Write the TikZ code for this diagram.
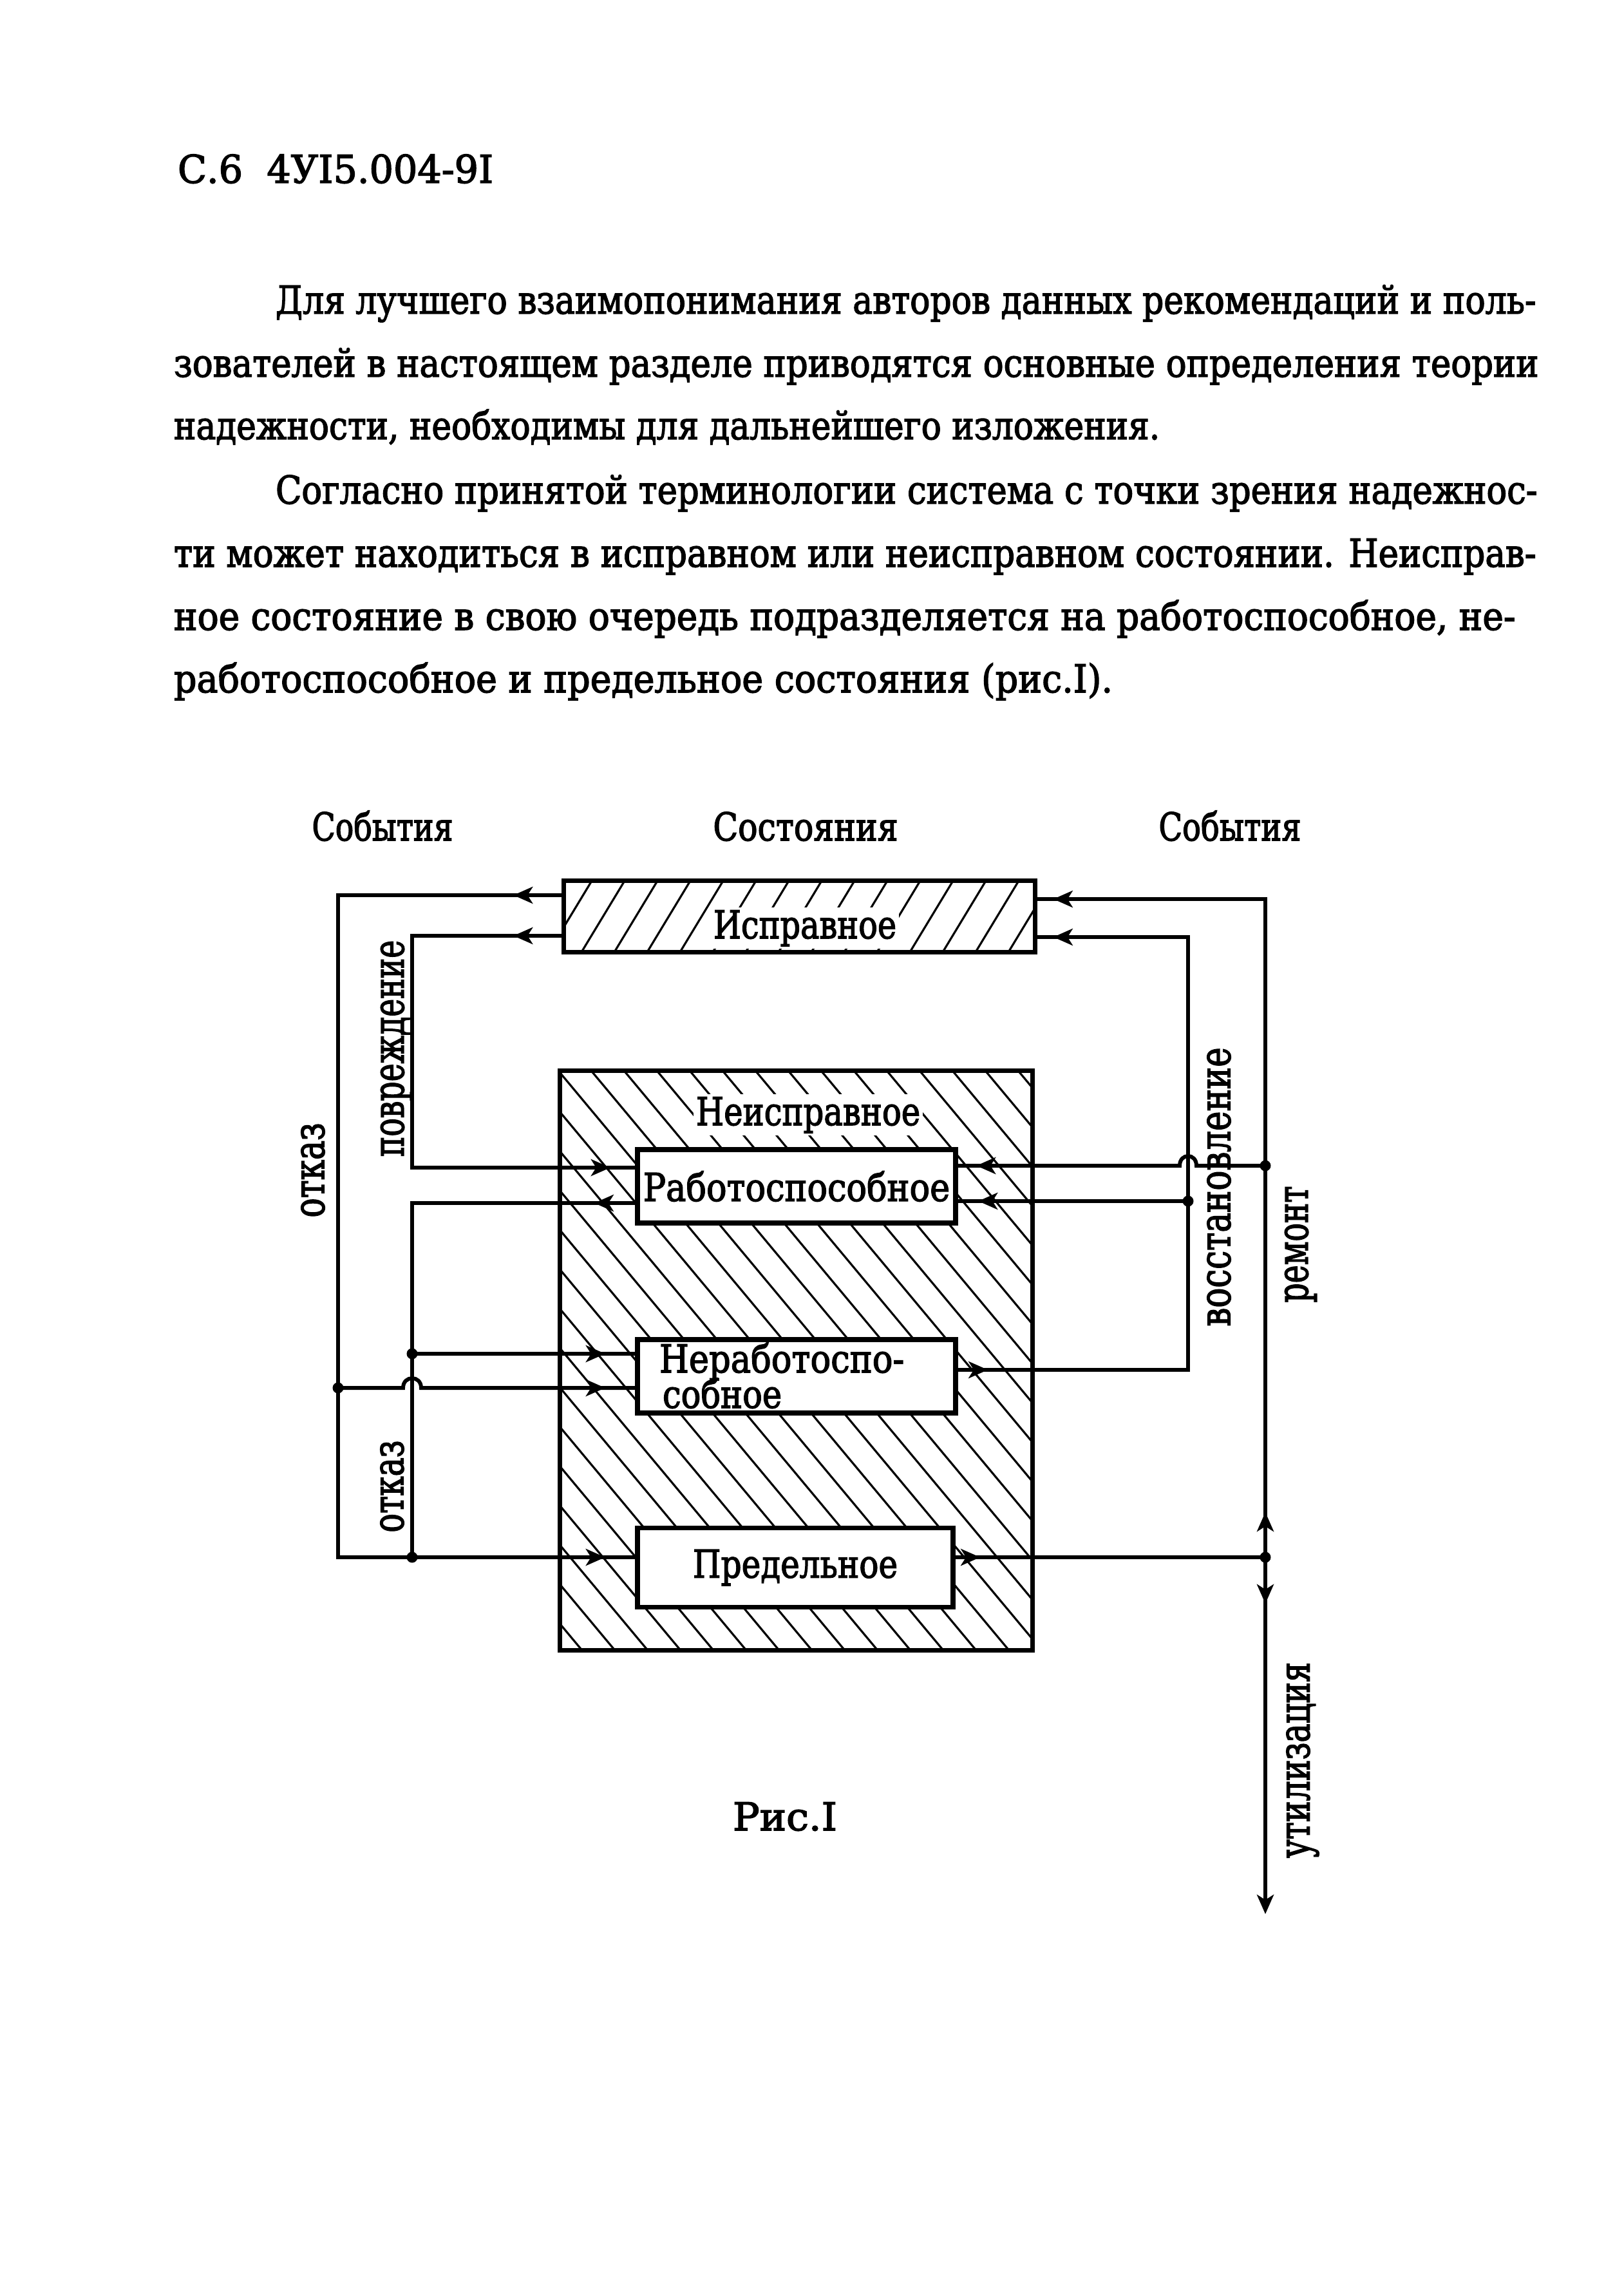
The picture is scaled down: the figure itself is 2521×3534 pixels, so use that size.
\documentclass[tikz,border=0pt]{standalone}
\usepackage{fontspec}
\usepackage{graphicx}
\usetikzlibrary{arrows.meta,decorations.markings}
\newfontfamily\tw{DejaVu Serif}[FakeBold=2.5]
\newcommand{\fw}[2]{\resizebox{#1}{\height}{#2}}
\begin{document}
\begin{tikzpicture}[x=0.01cm,y=-0.01cm,
  txt/.style={font=\tw\fontsize{17}{20}\selectfont, inner sep=0pt, outer sep=0pt},
  lbl/.style={txt, fill=white, inner sep=0.04cm},
  vlbl/.style={txt, font=\tw\fontsize{19}{22}\selectfont, rotate=90},
  statebox/.style={txt, draw, line width=2.2pt, fill=white},
  areabox/.style={draw, line width=2pt, inner sep=0pt},
  conn/.style={line width=1.7pt},
  hatch/.style={line width=0.9pt},
  arr/.style={postaction={decorate, decoration={markings, mark=at position #1 with {\arrow{Stealth[length=0.3cm,width=0.26cm,inset=0.08cm]}}}}},
  jdot/.style={fill},
]
\useasboundingbox (0,0) rectangle (2521,3534);
\fill[white] (0,0) rectangle (2521,3534);

% header and text
\node[txt, anchor=base west] (hdr) at (276,284) {\fw{4.9cm}{С.6\ \ 4УI5.004-9I}};
\node[txt, anchor=base west] (t1) at (428,487) {\fw{19.56cm}{Для лучшего взаимопонимания авторов данных рекомендаций и поль-}};
\node[txt, anchor=base west] (t2) at (270,585) {\fw{21.18cm}{зователей в настоящем разделе приводятся основные определения теории}};
\node[txt, anchor=base west] (t3) at (270,682) {\fw{15.3cm}{надежности, необходимы для дальнейшего изложения.}};
\node[txt, anchor=base west] (t4) at (428,782) {\fw{19.58cm}{Согласно принятой терминологии система с точки зрения надежнос-}};
\node[txt, anchor=base west] (t5) at (270,880) {\fw{21.14cm}{ти может находиться в исправном или неисправном состоянии. Неисправ-}};
\node[txt, anchor=base west] (t6) at (270,978) {\fw{20.82cm}{ное состояние в свою очередь подразделяется на работоспособное, не-}};
\node[txt, anchor=base west] (t7) at (270,1075) {\fw{14.57cm}{работоспособное и предельное состояния (рис.I).}};

% column headings
\node[txt, anchor=base] (ev1) at (594,1305) {\fw{2.19cm}{События}};
\node[txt, anchor=base] (st) at (1251,1305) {\fw{2.87cm}{Состояния}};
\node[txt, anchor=base] (ev2) at (1910,1305) {\fw{2.21cm}{События}};

% state areas
\node[areabox, minimum width=7.31cm, minimum height=1.10cm] (isp) at (1241.5,1423) {};
\begin{scope}
  \clip (isp.south west) rectangle (isp.north east);
  \foreach \x in {800,851,...,1620} \draw[hatch] (\x,1480) -- (\x+69,1366);
\end{scope}
\node[lbl, anchor=base] (isplbl) at (1250,1457) {\fw{2.84cm}{Исправное}};

\node[areabox, minimum width=7.33cm, minimum height=8.99cm] (neisp) at (1236.5,2112.5) {};
\begin{scope}
  \clip (neisp.south west) rectangle (neisp.north east);
  \foreach \x in {100,151,...,1620} \draw[hatch] (\x,1660) -- (\x+755,2565);
\end{scope}
\node[lbl, anchor=base] (neisplbl) at (1255,1747) {\fw{3.48cm}{Неисправное}};

\node[statebox, minimum width=4.94cm, minimum height=1.14cm] (rab) at (1237,1842) {\fw{4.76cm}{Работоспособное}};
\node[statebox, minimum width=4.94cm, minimum height=1.14cm] (nerab) at (1237,2137) {};
\node[txt, anchor=base west] (nerab1) at (1024,2131) {\fw{3.8cm}{Неработоспо-}};
\node[txt, anchor=base west] (nerab2) at (1029,2186) {\fw{1.85cm}{собное}};
\node[statebox, minimum width=4.90cm, minimum height=1.23cm] (pred) at (1235,2434) {\fw{3.18cm}{Предельное}};

% junction / corner coordinates
\coordinate (L1) at (525,1390);
\coordinate (L2) at (525,2418);
\coordinate (J1) at (525,2155);
\coordinate (P1) at (640,1453);
\coordinate (P2) at (640,1813);
\coordinate (Q1) at (640,1868);
\coordinate (J2) at (640,2102);
\coordinate (J3) at (640,2418);
\coordinate (R0) at (1965,2418);
\coordinate (R1) at (1965,1396);
\coordinate (J4) at (1965,1810);
\coordinate (R2) at (1965,2972);
\coordinate (V0) at (1845,2127);
\coordinate (V1) at (1845,1455);
\coordinate (J5) at (1845,1865);

% left side connectors
\draw[conn, arr=0.75cm, arr=-0.5cm] (isp.west |- L1) -- (L1) -- (L2) -- (pred.west |- L2);
\draw[conn, arr=-0.5cm] (J1) -- (626,2155) .. controls (626,2135) and (654,2135) .. (654,2155) -- (nerab.west |- J1);
\draw[conn, arr=0.75cm, arr=-0.42cm] (isp.west |- P1) -- (P1) -- (P2) -- (rab.west |- P2);
\draw[conn, arr=0.67cm] (rab.west |- Q1) -- (Q1) -- (J3);
\draw[conn, arr=-0.5cm] (J2) -- (nerab.west |- J2);

% right side connectors
\draw[conn, arr=0.42cm] (pred.east |- R0) -- (R0);
\draw[conn, arr=0.7cm, arr=-0.25cm] (R0) -- (R1) -- (isp.east |- R1);
\draw[conn, arr=-0.32cm] (J4) -- (1858,1810) .. controls (1858,1790) and (1832,1790) .. (1832,1810) -- (rab.east |- J4);
\draw[conn, arr=0.72cm, -{Stealth[length=0.3cm,width=0.26cm,inset=0.08cm]}] (R0) -- (R2);
\draw[conn, arr=0.5cm, arr=-0.25cm] (nerab.east |- V0) -- (V0) -- (V1) -- (isp.east |- V1);
\draw[conn, arr=-0.35cm] (J5) -- (rab.east |- J5);

% junction dots
\foreach \p in {J1,J2,J3,R0,J4,J5} \fill[jdot] (\p) circle[radius=0.085cm];

% event labels
\node[vlbl] (otk1) at (486,1817) {\fw{1.47cm}{отказ}};
\node[vlbl] (povr) at (616,1628) {\fw{3.36cm}{повреждение}};
\node[vlbl] (otk2) at (609,2308) {\fw{1.43cm}{отказ}};
\node[vlbl] (vost) at (1893,1843) {\fw{4.33cm}{восстановление}};
\node[vlbl] (rem) at (2020,1932) {\fw{1.81cm}{ремонт}};
\node[vlbl] (util) at (2023,2733) {\fw{3.04cm}{утилизация}};

% caption
\node[txt, anchor=base] (cap) at (1219,2842) {\fw{1.62cm}{Рис.I}};
\end{tikzpicture}
\end{document}
